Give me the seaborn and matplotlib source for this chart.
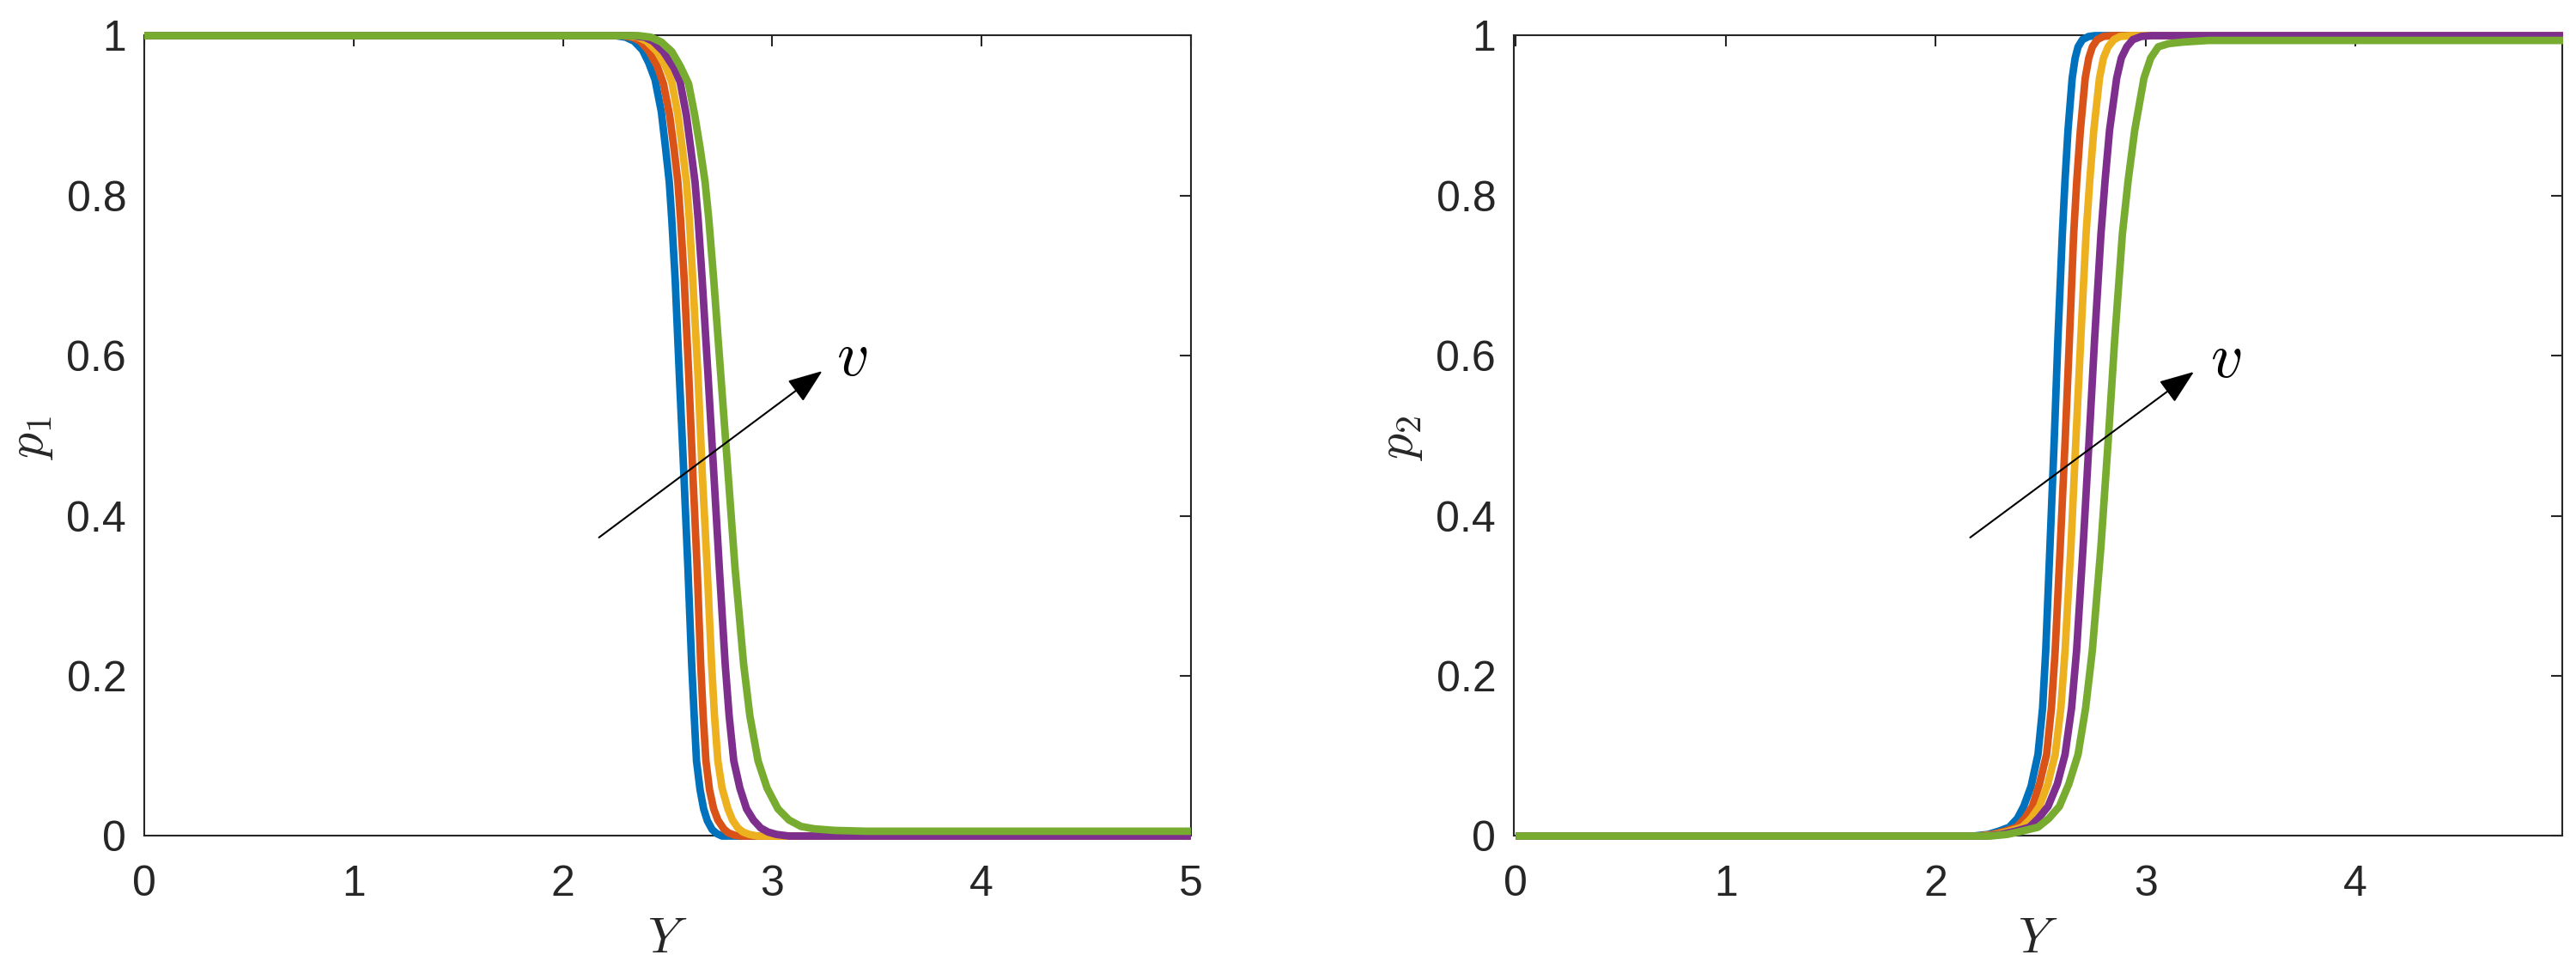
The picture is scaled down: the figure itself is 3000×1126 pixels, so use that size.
import numpy as np
import pandas as pd
import matplotlib
matplotlib.use("Agg")
import matplotlib.pyplot as plt
import seaborn as sns

# ---------------- data ----------------
curve_labels = ["c1", "c2", "c3", "c4", "c5"]
curve_colors = ["#0072BD", "#D95319", "#EDB120", "#7E2F8E", "#77AC30"]

# left panel : p1 versus Y
p1_Y_1 = [0, 2.25, 2.30, 2.34, 2.38, 2.41, 2.44, 2.47, 2.49, 2.508, 2.52, 2.536, 2.556, 2.577, 2.597, 2.615, 2.627, 2.638, 2.655, 2.672, 2.69, 2.713, 2.735, 2.76, 5]
p1_v_1 = [1, 1.0, 0.998, 0.993, 0.982, 0.966, 0.945, 0.905, 0.86, 0.817, 0.77, 0.696, 0.576, 0.456, 0.335, 0.215, 0.15, 0.094, 0.058, 0.034, 0.019, 0.008, 0.003, 0.0, 0]
p1_Y_2 = [0, 2.28, 2.33, 2.37, 2.41, 2.45, 2.48, 2.51, 2.53, 2.549, 2.562, 2.579, 2.601, 2.620, 2.641, 2.658, 2.670, 2.683, 2.70, 2.720, 2.74, 2.768, 2.79, 2.82, 2.85, 5]
p1_v_2 = [1, 1.0, 0.998, 0.993, 0.981, 0.962, 0.94, 0.9, 0.86, 0.817, 0.77, 0.696, 0.576, 0.456, 0.335, 0.215, 0.15, 0.094, 0.058, 0.034, 0.02, 0.009, 0.004, 0.001, 0.0, 0]
p1_Y_3 = [0, 2.31, 2.36, 2.40, 2.45, 2.49, 2.52, 2.55, 2.57, 2.590, 2.604, 2.620, 2.645, 2.665, 2.689, 2.710, 2.724, 2.740, 2.76, 2.788, 2.81, 2.836, 2.86, 2.89, 2.93, 5]
p1_v_3 = [1, 1.0, 0.998, 0.993, 0.98, 0.962, 0.942, 0.9, 0.86, 0.817, 0.77, 0.696, 0.576, 0.456, 0.335, 0.215, 0.15, 0.094, 0.06, 0.034, 0.02, 0.010, 0.005, 0.002, 0.0, 0]
p1_Y_4 = [0, 2.33, 2.39, 2.43, 2.48, 2.53, 2.56, 2.59, 2.61, 2.631, 2.646, 2.665, 2.693, 2.720, 2.747, 2.775, 2.794, 2.816, 2.845, 2.877, 2.91, 2.945, 2.98, 3.02, 3.08, 5]
p1_v_4 = [1, 1.0, 0.998, 0.993, 0.98, 0.96, 0.942, 0.9, 0.86, 0.817, 0.77, 0.696, 0.576, 0.456, 0.335, 0.215, 0.15, 0.094, 0.06, 0.034, 0.02, 0.010, 0.005, 0.002, 0.0, 0]
p1_Y_5 = [0, 2.36, 2.42, 2.47, 2.52, 2.56, 2.60, 2.63, 2.655, 2.679, 2.697, 2.720, 2.754, 2.788, 2.822, 2.863, 2.893, 2.932, 2.975, 3.027, 3.08, 3.137, 3.2, 3.3, 3.45, 5]
p1_v_5 = [1, 1.0, 0.998, 0.992, 0.98, 0.962, 0.94, 0.9, 0.86, 0.817, 0.77, 0.696, 0.576, 0.456, 0.335, 0.215, 0.15, 0.094, 0.06, 0.034, 0.02, 0.012, 0.009, 0.007, 0.006, 0.006]

# right panel : p2 versus Y
p2_Y_1 = [0, 2.18, 2.25, 2.30, 2.351, 2.39, 2.420, 2.455, 2.488, 2.51, 2.525, 2.545, 2.565, 2.583, 2.604, 2.617, 2.631, 2.651, 2.665, 2.679, 2.70, 2.73, 2.76, 4.99]
p2_v_1 = [0, 0.0, 0.002, 0.006, 0.011, 0.022, 0.037, 0.062, 0.102, 0.16, 0.232, 0.362, 0.492, 0.622, 0.752, 0.82, 0.882, 0.947, 0.972, 0.986, 0.995, 0.999, 1.0, 1.0]
p2_Y_2 = [0, 2.20, 2.27, 2.33, 2.386, 2.425, 2.461, 2.495, 2.529, 2.552, 2.570, 2.594, 2.617, 2.638, 2.658, 2.673, 2.690, 2.713, 2.73, 2.747, 2.77, 2.80, 2.84, 4.99]
p2_v_2 = [0, 0.0, 0.002, 0.006, 0.011, 0.022, 0.037, 0.065, 0.102, 0.16, 0.232, 0.362, 0.492, 0.622, 0.752, 0.82, 0.882, 0.947, 0.972, 0.986, 0.995, 0.999, 1.0, 1.0]
p2_Y_3 = [0, 2.22, 2.29, 2.35, 2.413, 2.455, 2.495, 2.535, 2.570, 2.597, 2.617, 2.645, 2.668, 2.692, 2.717, 2.735, 2.754, 2.781, 2.80, 2.822, 2.85, 2.88, 2.93, 4.99]
p2_v_3 = [0, 0.0, 0.002, 0.006, 0.011, 0.022, 0.037, 0.065, 0.102, 0.16, 0.232, 0.362, 0.492, 0.622, 0.752, 0.82, 0.882, 0.947, 0.972, 0.986, 0.995, 0.999, 1.0, 1.0]
p2_Y_4 = [0, 2.24, 2.31, 2.38, 2.447, 2.49, 2.536, 2.58, 2.617, 2.648, 2.672, 2.703, 2.731, 2.758, 2.788, 2.808, 2.829, 2.863, 2.885, 2.911, 2.94, 2.98, 3.03, 4.99]
p2_v_4 = [0, 0.0, 0.002, 0.006, 0.011, 0.022, 0.037, 0.065, 0.102, 0.16, 0.232, 0.362, 0.492, 0.622, 0.752, 0.82, 0.882, 0.947, 0.972, 0.986, 0.995, 0.999, 1.0, 1.0]
p2_Y_5 = [0, 2.26, 2.34, 2.41, 2.488, 2.54, 2.590, 2.635, 2.679, 2.715, 2.747, 2.788, 2.822, 2.854, 2.890, 2.918, 2.949, 2.993, 3.025, 3.061, 3.11, 3.18, 3.3, 4.99]
p2_v_5 = [0, 0.0, 0.002, 0.006, 0.011, 0.022, 0.037, 0.065, 0.102, 0.16, 0.232, 0.362, 0.492, 0.622, 0.752, 0.82, 0.882, 0.947, 0.972, 0.986, 0.99, 0.992, 0.994, 0.994]

y_ticks = [0, 0.2, 0.4, 0.6, 0.8, 1]
y_ticklabels = ["0", "0.2", "0.4", "0.6", "0.8", "1"]
x_ticks_left = [0, 1, 2, 3, 4, 5]
x_ticks_right = [0, 1, 2, 3, 4]

# arrow annotations (tail, tip, label position) in data units
arrow_left = {"tail": (2.172, 0.373), "tip": (3.239, 0.581), "text": (3.381, 0.597)}
arrow_right = {"tail": (2.165, 0.373), "tip": (3.231, 0.580), "text": (3.383, 0.594)}

# ---------------- style ----------------
sns.set_theme(style="white")
plt.rcParams["font.family"] = ["Liberation Sans", "DejaVu Sans"]
plt.rcParams["mathtext.fontset"] = "cm"

AX_COLOR = "#262626"
LINE_W = 6.3


def build_frame(Ys, vs):
    rows = []
    for lab, Y, v in zip(curve_labels, Ys, vs):
        for a, b in zip(Y, v):
            rows.append((lab, a, b))
    return pd.DataFrame(rows, columns=["curve", "Y", "p"])


df_left = build_frame([p1_Y_1, p1_Y_2, p1_Y_3, p1_Y_4, p1_Y_5],
                      [p1_v_1, p1_v_2, p1_v_3, p1_v_4, p1_v_5])
df_right = build_frame([p2_Y_1, p2_Y_2, p2_Y_3, p2_Y_4, p2_Y_5],
                       [p2_v_1, p2_v_2, p2_v_3, p2_v_4, p2_v_5])

fig = plt.figure(figsize=(30, 11.26), dpi=100)
fig.patch.set_facecolor("white")
ax1 = fig.add_axes([0.056, 0.13544, 0.40633, 0.82771])
ax2 = fig.add_axes([0.58767, 0.13544, 0.40700, 0.82771])

palette = dict(zip(curve_labels, curve_colors))


def style_axes(ax, df, xlim, xticks, ylabel, arrow):
    sns.lineplot(data=df, x="Y", y="p", hue="curve", hue_order=curve_labels,
                 palette=palette, linewidth=LINE_W, legend=False, ax=ax,
                 sort=False, estimator=None)
    for ln in ax.lines:
        ln.set_linewidth(LINE_W)
        ln.set_clip_on(False)
        ln.set_solid_capstyle("butt")
        ln.set_solid_joinstyle("round")
    ax.set_xlim(*xlim)
    ax.set_ylim(0, 1)
    ax.set_xticks(xticks)
    ax.set_xticklabels([str(t) for t in xticks])
    ax.set_yticks(y_ticks)
    ax.set_yticklabels(y_ticklabels)
    ax.tick_params(axis="both", which="both", direction="in", length=9.4,
                   width=1.5, color=AX_COLOR, labelcolor=AX_COLOR,
                   labelsize=36, top=True, right=True)
    ax.tick_params(axis="x", pad=24)
    ax.tick_params(axis="y", pad=15)
    for sp in ax.spines.values():
        sp.set_visible(True)
        sp.set_color(AX_COLOR)
        sp.set_linewidth(1.5)
        sp.set_zorder(0.5)
    ax.set_xlabel("$Y$", fontsize=42, color=AX_COLOR)
    ax.xaxis.label.set_va("center")
    ax.xaxis.set_label_coords(0.5, -0.1293)
    ax.set_ylabel(ylabel, fontsize=43, color=AX_COLOR)
    ax.yaxis.label.set_va("center")
    ax.yaxis.label.set_ha("center")
    ax.yaxis.set_label_coords(-0.1077, 0.497)
    ax.annotate("", xy=arrow["tip"], xytext=arrow["tail"],
                arrowprops=dict(arrowstyle="-|>,head_length=25,head_width=9.4",
                                mutation_scale=1, lw=1.5, color="black",
                                shrinkA=0, shrinkB=0))
    ax.text(arrow["text"][0], arrow["text"][1], "$v$", fontsize=53,
            ha="center", va="center", color="black")
    ax.set_facecolor("white")


style_axes(ax1, df_left, (0, 5), x_ticks_left, "$p_1$", arrow_left)
style_axes(ax2, df_right, (-0.0094, 4.986), x_ticks_right, "$p_2$", arrow_right)

fig.savefig("out.png", dpi=100, facecolor="white")
